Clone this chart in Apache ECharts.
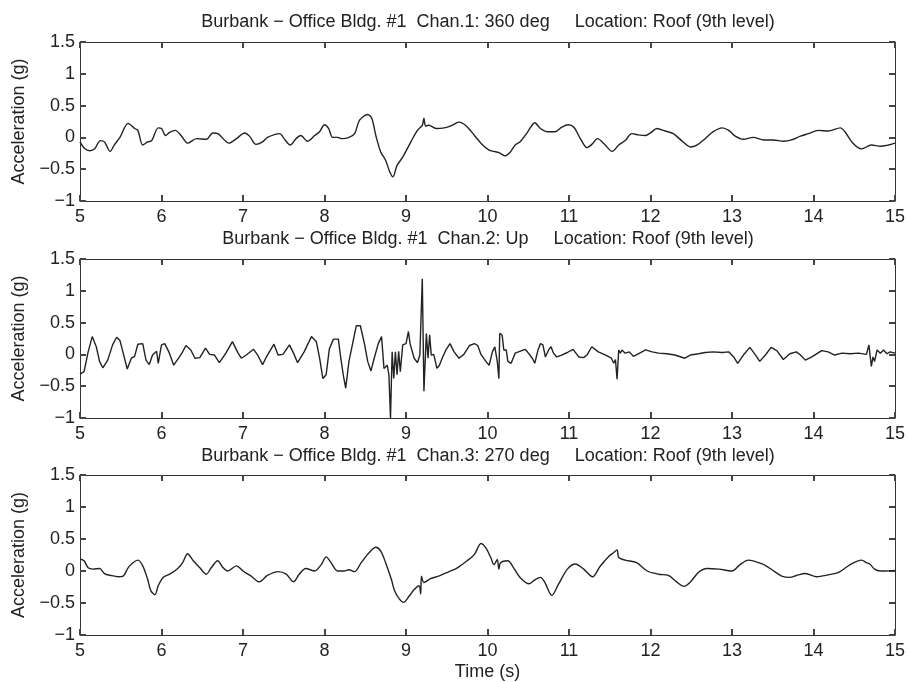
<!DOCTYPE html>
<html>
<head>
<meta charset="utf-8">
<script src="https://cdn.jsdelivr.net/npm/echarts@6/dist/echarts.min.js"></script>
<style>
  html, body { margin: 0; padding: 0; background: #fff; }
  #main { width: 908px; height: 682px; }
</style>
</head>
<body>
<div id="main"></div>
<script>
// axis ticks
const xTicks = [5, 6, 7, 8, 9, 10, 11, 12, 13, 14, 15]
const yTicks = [-1, -0.5, 0, 0.5, 1, 1.5]

const titles = [
  'Burbank \u2212 Office Bldg. #1  Chan.1: 360 deg     Location: Roof (9th level)',
  'Burbank \u2212 Office Bldg. #1  Chan.2: Up     Location: Roof (9th level)',
  'Burbank \u2212 Office Bldg. #1  Chan.3: 270 deg     Location: Roof (9th level)'
]

// Chan.1 : 360 deg
const t1 = [5.00, 5.06, 5.12, 5.18, 5.25, 5.30, 5.37, 5.42, 5.49, 5.59,
  5.67, 5.71, 5.77, 5.83, 5.88, 5.96, 6.00, 6.05, 6.10, 6.17,
  6.24, 6.32, 6.43, 6.55, 6.63, 6.69, 6.83, 6.92, 7.02, 7.08,
  7.16, 7.24, 7.30, 7.45, 7.51, 7.58, 7.65, 7.71, 7.79, 7.88,
  7.94, 8.00, 8.05, 8.10, 8.16, 8.22, 8.30, 8.37, 8.43, 8.53,
  8.58, 8.63, 8.69, 8.75, 8.80, 8.84, 8.89, 8.96, 9.06, 9.14,
  9.20, 9.22, 9.24, 9.28, 9.37, 9.47, 9.55, 9.65, 9.74, 9.84,
  9.94, 10.02, 10.08, 10.14, 10.22, 10.28, 10.34, 10.40, 10.49, 10.58,
  10.65, 10.73, 10.83, 10.91, 10.99, 11.06, 11.14, 11.22, 11.28, 11.35,
  11.43, 11.53, 11.61, 11.69, 11.77, 11.85, 11.94, 12.00, 12.08, 12.18,
  12.28, 12.39, 12.49, 12.57, 12.67, 12.77, 12.88, 12.96, 13.04, 13.14,
  13.26, 13.39, 13.51, 13.63, 13.73, 13.84, 13.94, 14.06, 14.18, 14.33,
  14.39, 14.49, 14.59, 14.71, 14.82, 14.92, 15.00]
const a1 = [-0.07, -0.18, -0.21, -0.18, -0.05, -0.07, -0.22, -0.12, 0.00, 0.22,
  0.14, 0.11, -0.12, -0.07, -0.05, 0.15, 0.14, 0.03, 0.08, 0.11,
  0.03, -0.09, -0.02, -0.03, 0.07, 0.06, -0.09, -0.02, 0.07, 0.02,
  -0.11, -0.07, 0.00, 0.06, -0.03, -0.12, -0.02, 0.03, -0.06, 0.03,
  0.09, 0.20, 0.14, 0.00, 0.00, -0.02, 0.00, 0.06, 0.27, 0.36,
  0.30, 0.03, -0.23, -0.36, -0.54, -0.62, -0.44, -0.31, -0.07, 0.11,
  0.19, 0.30, 0.18, 0.19, 0.14, 0.15, 0.18, 0.24, 0.18, 0.03,
  -0.12, -0.20, -0.22, -0.24, -0.29, -0.23, -0.12, -0.07, 0.08, 0.23,
  0.14, 0.09, 0.09, 0.16, 0.20, 0.16, -0.02, -0.16, -0.11, -0.02,
  -0.10, -0.22, -0.12, -0.05, 0.06, 0.04, 0.03, 0.07, 0.14, 0.10,
  0.06, -0.06, -0.15, -0.12, -0.02, 0.09, 0.15, 0.11, 0.02, -0.03,
  0.00, -0.04, -0.04, -0.06, -0.04, 0.02, 0.06, 0.11, 0.10, 0.15,
  0.08, -0.10, -0.18, -0.12, -0.14, -0.12, -0.09]

// Chan.2 : Up
const t2 = [5.00, 5.05, 5.10, 5.15, 5.20, 5.24, 5.28, 5.34, 5.40, 5.45,
  5.49, 5.53, 5.58, 5.63, 5.67, 5.71, 5.77, 5.81, 5.85, 5.89,
  5.94, 5.96, 6.00, 6.04, 6.09, 6.15, 6.22, 6.25, 6.30, 6.36,
  6.41, 6.47, 6.54, 6.59, 6.65, 6.71, 6.79, 6.87, 6.94, 6.98,
  7.04, 7.13, 7.18, 7.24, 7.30, 7.38, 7.43, 7.49, 7.57, 7.62,
  7.67, 7.75, 7.84, 7.90, 7.94, 7.98, 8.02, 8.06, 8.11, 8.17,
  8.20, 8.23, 8.26, 8.30, 8.35, 8.39, 8.44, 8.49, 8.53, 8.57,
  8.61, 8.66, 8.70, 8.73, 8.77, 8.79, 8.81, 8.83, 8.85, 8.87,
  8.89, 8.91, 8.93, 8.96, 9.00, 9.03, 9.05, 9.10, 9.14, 9.17,
  9.20, 9.22, 9.24, 9.25, 9.27, 9.29, 9.31, 9.34, 9.38, 9.41,
  9.45, 9.49, 9.54, 9.59, 9.65, 9.71, 9.78, 9.84, 9.88, 9.92,
  9.98, 10.02, 10.06, 10.09, 10.12, 10.14, 10.15, 10.18, 10.20, 10.23,
  10.25, 10.29, 10.34, 10.38, 10.46, 10.49, 10.55, 10.58, 10.62, 10.65,
  10.68, 10.71, 10.75, 10.78, 10.81, 10.85, 10.91, 10.98, 11.05, 11.12,
  11.18, 11.22, 11.28, 11.36, 11.45, 11.52, 11.55, 11.57, 11.59, 11.61,
  11.63, 11.65, 11.69, 11.74, 11.79, 11.85, 11.94, 12.02, 12.10, 12.20,
  12.30, 12.42, 12.49, 12.59, 12.67, 12.77, 12.88, 12.96, 13.02, 13.07,
  13.14, 13.22, 13.30, 13.34, 13.41, 13.48, 13.55, 13.63, 13.71, 13.79,
  13.84, 13.90, 13.98, 14.10, 14.18, 14.26, 14.35, 14.45, 14.55, 14.65,
  14.68, 14.71, 14.73, 14.75, 14.78, 14.82, 14.86, 14.90, 14.94, 15.00]
const a2 = [-0.31, -0.27, 0.04, 0.28, 0.12, -0.11, -0.21, -0.09, 0.15, 0.27,
  0.22, 0.02, -0.23, -0.06, -0.03, 0.16, 0.17, -0.09, -0.16, -0.01,
  0.05, -0.14, 0.15, 0.17, 0.04, -0.17, -0.04, 0.02, 0.14, 0.07,
  -0.06, -0.05, 0.10, 0.00, -0.01, -0.13, 0.02, 0.20, 0.02, -0.06,
  -0.01, 0.08, -0.01, -0.16, -0.01, 0.16, -0.01, 0.00, 0.15, 0.02,
  -0.13, 0.04, 0.28, 0.20, -0.06, -0.38, -0.32, 0.09, 0.24, 0.24,
  -0.06, -0.32, -0.53, -0.11, 0.20, 0.45, 0.45, 0.17, -0.11, -0.26,
  -0.06, 0.17, 0.28, -0.22, -0.17, -0.32, -1.00, 0.04, -0.38, 0.04,
  -0.32, 0.05, -0.27, 0.15, 0.17, 0.36, 0.17, -0.06, -0.13, -0.01,
  1.19, -0.58, 0.04, 0.33, -0.06, 0.31, -0.01, 0.00, -0.22, -0.17,
  -0.04, 0.07, 0.17, 0.04, -0.06, 0.00, 0.14, 0.17, 0.14, 0.00,
  -0.11, -0.17, 0.04, 0.12, -0.11, -0.38, 0.33, 0.30, 0.07, 0.07,
  -0.11, -0.14, 0.02, 0.04, 0.08, 0.04, -0.06, -0.14, 0.07, 0.17,
  0.15, -0.04, 0.07, 0.12, 0.02, -0.04, -0.01, 0.03, 0.08, -0.04,
  -0.05, -0.01, 0.12, 0.04, -0.01, -0.06, -0.14, -0.08, -0.39, 0.07,
  0.02, 0.07, 0.02, 0.04, -0.03, 0.01, 0.07, 0.04, 0.02, 0.01,
  -0.01, -0.06, -0.01, 0.01, 0.03, 0.04, 0.03, 0.04, -0.04, -0.14,
  -0.01, 0.11, -0.03, -0.11, -0.01, 0.11, 0.06, -0.08, 0.01, 0.04,
  -0.01, -0.09, -0.04, 0.06, 0.04, -0.01, 0.02, 0.01, 0.02, 0.00,
  0.15, -0.19, -0.04, -0.11, 0.07, 0.02, 0.07, 0.01, 0.04, 0.02]

// Chan.3 : 270 deg
const t3 = [5.00, 5.05, 5.10, 5.16, 5.24, 5.30, 5.38, 5.47, 5.53, 5.59,
  5.65, 5.71, 5.77, 5.83, 5.87, 5.92, 5.96, 6.02, 6.10, 6.20,
  6.26, 6.32, 6.39, 6.47, 6.55, 6.61, 6.69, 6.75, 6.81, 6.92,
  7.00, 7.10, 7.20, 7.30, 7.43, 7.53, 7.62, 7.69, 7.77, 7.88,
  7.96, 8.02, 8.08, 8.16, 8.24, 8.30, 8.37, 8.45, 8.55, 8.63,
  8.69, 8.75, 8.82, 8.86, 8.92, 8.97, 9.04, 9.10, 9.16, 9.18,
  9.19, 9.22, 9.30, 9.40, 9.51, 9.63, 9.75, 9.84, 9.92, 9.98,
  10.04, 10.08, 10.12, 10.14, 10.16, 10.25, 10.32, 10.40, 10.51, 10.59,
  10.65, 10.70, 10.79, 10.87, 10.98, 11.08, 11.18, 11.29, 11.38, 11.49,
  11.55, 11.59, 11.61, 11.69, 11.83, 11.96, 12.10, 12.22, 12.32, 12.41,
  12.49, 12.59, 12.69, 12.84, 13.00, 13.10, 13.20, 13.37, 13.49, 13.61,
  13.71, 13.79, 13.90, 14.04, 14.18, 14.31, 14.45, 14.59, 14.65, 14.69,
  14.75, 14.82, 14.88, 15.00]
const a3 = [0.19, 0.16, 0.05, 0.03, 0.04, -0.04, -0.07, -0.09, -0.08, 0.05,
  0.13, 0.17, 0.08, -0.13, -0.31, -0.37, -0.23, -0.10, -0.05, 0.04,
  0.13, 0.27, 0.16, 0.05, -0.05, 0.05, 0.16, 0.06, 0.00, 0.08,
  0.00, -0.08, -0.17, -0.07, -0.01, -0.05, -0.17, -0.05, 0.04, 0.00,
  0.10, 0.22, 0.13, 0.00, 0.00, 0.02, -0.01, 0.13, 0.29, 0.37,
  0.31, 0.13, -0.13, -0.31, -0.44, -0.49, -0.39, -0.29, -0.23, -0.36,
  -0.08, -0.18, -0.12, -0.08, -0.02, 0.05, 0.16, 0.26, 0.43, 0.36,
  0.21, 0.10, 0.18, 0.03, 0.13, 0.16, 0.05, -0.10, -0.20, -0.13,
  -0.10, -0.17, -0.38, -0.21, 0.03, 0.11, 0.03, -0.09, 0.07, 0.23,
  0.29, 0.33, 0.21, 0.17, 0.13, 0.00, -0.05, -0.07, -0.17, -0.24,
  -0.17, -0.02, 0.04, 0.03, 0.00, 0.10, 0.17, 0.11, 0.02, -0.08,
  -0.10, -0.07, -0.04, -0.09, -0.06, -0.02, 0.10, 0.17, 0.13, 0.11,
  0.03, 0.00, 0.00, 0.01]

const chart = echarts.init(document.getElementById('main'))

const font = "'Liberation Sans', Arial, Helvetica, sans-serif"
const ink = '#222'
const frame = '#333'
const fs = 18

const grids = [
  { left: 80, top: 42, width: 816, height: 159 },
  { left: 80, top: 259, width: 816, height: 159 },
  { left: 80, top: 475, width: 816, height: 161 }
]
const titleY = [22, 239, 456]
const traces = [[t1, a1], [t2, a2], [t3, a3]]

function pairs(t, a) {
  return t.map((x, i) => [x, a[i]])
}

function yLabel(v) {
  return v < 0 ? '\u2212' + Math.abs(v) : String(v)
}

function axisLine() {
  return { show: true, onZero: false, lineStyle: { color: frame, width: 1 } }
}
// thin 1px ticks vanish in the screenshot, so keep them a bit heavier
function axisTick() {
  return { show: true, inside: true, length: 6, lineStyle: { color: '#444', width: 2 } }
}

const xAxis = []
const yAxis = []
const series = []
const graphic = []

grids.forEach((g, i) => {
  xAxis.push({
    type: 'value', gridIndex: i, position: 'bottom',
    min: xTicks[0], max: xTicks[xTicks.length - 1], interval: 1,
    axisLine: axisLine(), axisTick: axisTick(), splitLine: { show: false },
    axisLabel: { color: ink, fontSize: fs, fontFamily: font, margin: 7 },
    name: i === 2 ? 'Time (s)' : '', nameLocation: 'middle', nameGap: 28,
    nameTextStyle: { color: ink, fontSize: fs, fontFamily: font }
  })
  xAxis.push({
    type: 'value', gridIndex: i, position: 'top',
    min: xTicks[0], max: xTicks[xTicks.length - 1], interval: 1,
    axisLine: axisLine(), axisTick: axisTick(), splitLine: { show: false },
    axisLabel: { show: false }
  })
  yAxis.push({
    type: 'value', gridIndex: i, position: 'left',
    min: yTicks[0], max: yTicks[yTicks.length - 1], interval: 0.5,
    axisLine: axisLine(), axisTick: axisTick(), splitLine: { show: false },
    axisLabel: { color: ink, fontSize: fs, fontFamily: font, margin: 5, formatter: yLabel },
    name: 'Acceleration (g)', nameLocation: 'middle', nameGap: 52,
    nameTextStyle: { color: ink, fontSize: fs, fontFamily: font }
  })
  yAxis.push({
    type: 'value', gridIndex: i, position: 'right',
    min: yTicks[0], max: yTicks[yTicks.length - 1], interval: 0.5,
    axisLine: axisLine(), axisTick: axisTick(), splitLine: { show: false },
    axisLabel: { show: false }
  })
  series.push({
    type: 'line',
    xAxisIndex: i * 2,
    yAxisIndex: i * 2,
    data: pairs(traces[i][0], traces[i][1]),
    showSymbol: false,
    smooth: i === 1 ? false : 0.3,
    lineStyle: { color: ink, width: 1.4 },
    silent: true
  })
  graphic.push({
    type: 'text',
    x: g.left + g.width / 2,
    y: titleY[i],
    style: {
      text: titles[i], fill: ink, font: fs + 'px ' + font,
      textAlign: 'center', textVerticalAlign: 'middle'
    }
  })
})

chart.setOption({
  animation: false,
  backgroundColor: '#fff',
  grid: grids,
  xAxis: xAxis,
  yAxis: yAxis,
  series: series,
  graphic: graphic
})
</script>
</body>
</html>
